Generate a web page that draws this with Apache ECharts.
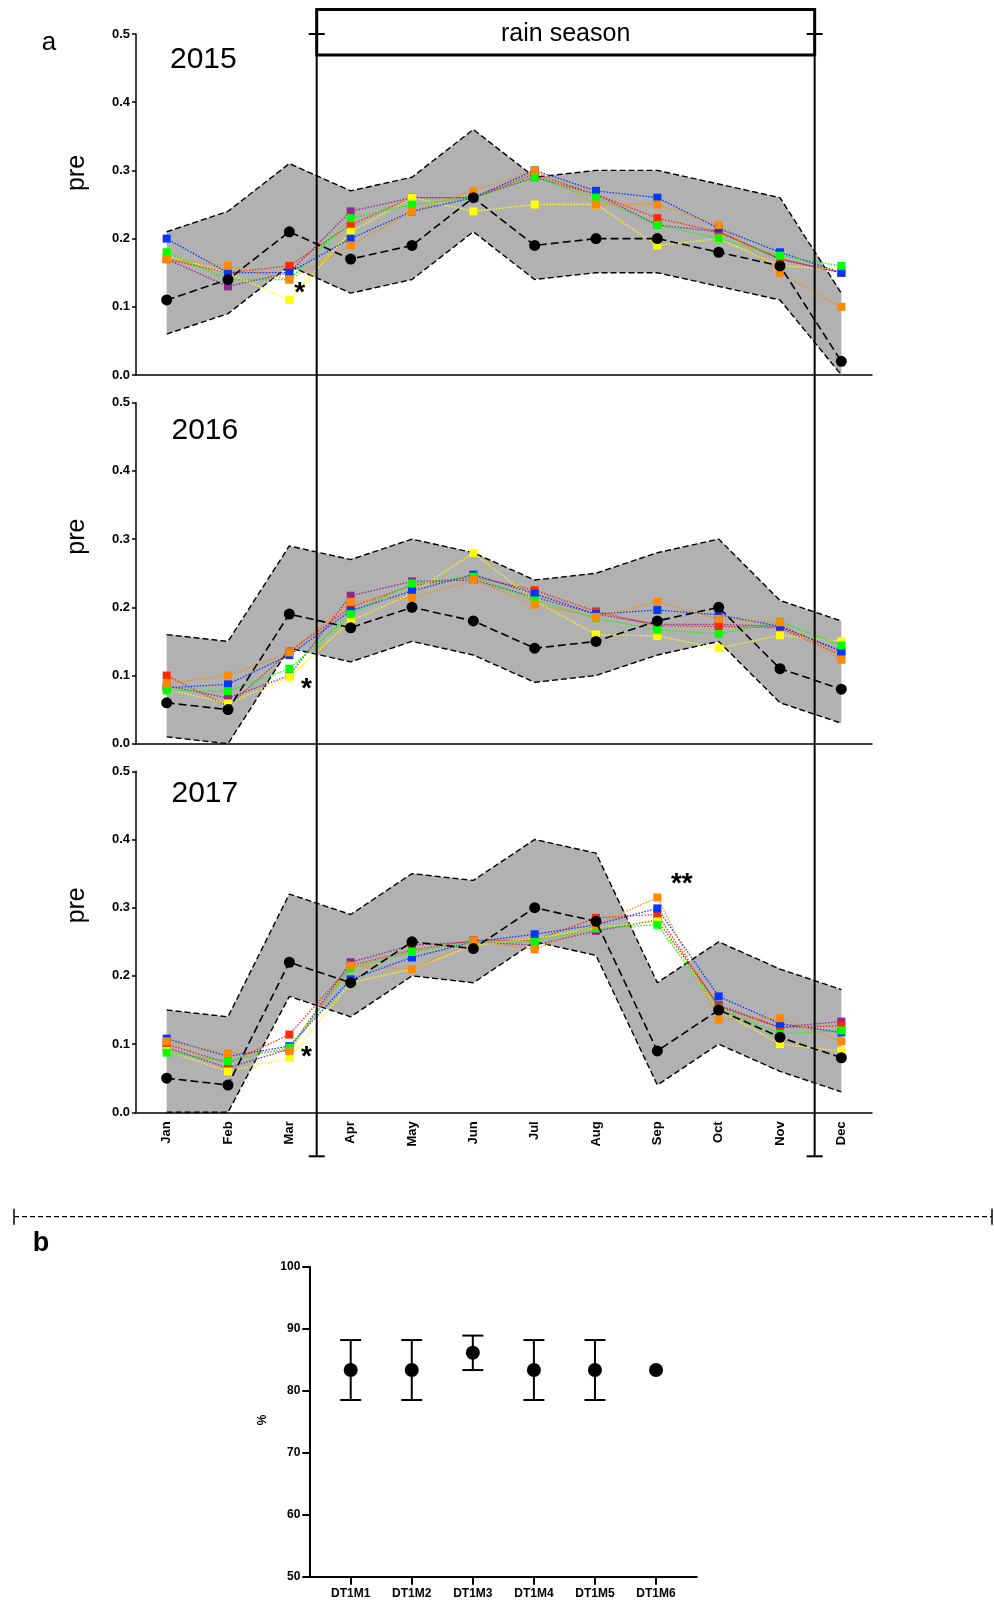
<!DOCTYPE html>
<html>
<head>
<meta charset="utf-8">
<script src="https://cdn.jsdelivr.net/npm/echarts@6/dist/echarts.min.js"></script>
<style>
  html, body { margin: 0; padding: 0; background: #ffffff; }
  #chart { width: 994px; height: 1601px; }
</style>
</head>
<body>
<div id="chart"></div>
<script>
// ---- panel a: monthly pre per year ----
const months = ['Jan', 'Feb', 'Mar', 'Apr', 'May', 'Jun', 'Jul', 'Aug', 'Sep', 'Oct', 'Nov', 'Dec'];
const years = ['2015', '2016', '2017'];
const yTicks = [0, 0.1, 0.2, 0.3, 0.4, 0.5];

// long-term reference (black) with its envelope
const mean2015  = [0.11, 0.14, 0.21, 0.17, 0.19, 0.26, 0.19, 0.20, 0.20, 0.18, 0.16, 0.02];
const upper2015 = [0.21, 0.24, 0.31, 0.27, 0.29, 0.36, 0.29, 0.30, 0.30, 0.28, 0.26, 0.12];
const lower2015 = [0.06, 0.09, 0.16, 0.12, 0.14, 0.21, 0.14, 0.15, 0.15, 0.13, 0.11, 0.00];

const mean2016  = [0.06, 0.05, 0.19, 0.17, 0.20, 0.18, 0.14, 0.15, 0.18, 0.20, 0.11, 0.08];
const upper2016 = [0.16, 0.15, 0.29, 0.27, 0.30, 0.28, 0.24, 0.25, 0.28, 0.30, 0.21, 0.18];
const lower2016 = [0.01, 0.00, 0.14, 0.12, 0.15, 0.13, 0.09, 0.10, 0.13, 0.15, 0.06, 0.03];

const mean2017  = [0.05, 0.04, 0.22, 0.19, 0.25, 0.24, 0.30, 0.28, 0.09, 0.15, 0.11, 0.08];
const upper2017 = [0.15, 0.14, 0.32, 0.29, 0.35, 0.34, 0.40, 0.38, 0.19, 0.25, 0.21, 0.18];
const lower2017 = [0.00, 0.00, 0.17, 0.14, 0.20, 0.19, 0.25, 0.23, 0.04, 0.10, 0.06, 0.03];

// six coloured series per year
const red2015    = [0.17, 0.15, 0.16, 0.22, 0.26, 0.26, 0.295, 0.265, 0.23, 0.21, 0.17, 0.15];
const blue2015   = [0.20, 0.15, 0.15, 0.20, 0.24, 0.26, 0.30, 0.27, 0.26, 0.215, 0.18, 0.15];
const green2015  = [0.18, 0.14, 0.14, 0.23, 0.25, 0.26, 0.29, 0.26, 0.22, 0.20, 0.175, 0.16];
const yellow2015 = [0.175, 0.15, 0.11, 0.21, 0.26, 0.24, 0.25, 0.25, 0.19, 0.20, 0.16, 0.155];
const purple2015 = [0.17, 0.13, 0.15, 0.24, 0.26, 0.26, 0.29, 0.265, 0.22, 0.21, 0.17, 0.15];
const orange2015 = [0.17, 0.16, 0.14, 0.19, 0.24, 0.27, 0.30, 0.25, 0.25, 0.22, 0.15, 0.10];

const red2016    = [0.10, 0.055, 0.135, 0.20, 0.232, 0.245, 0.225, 0.194, 0.173, 0.172, 0.17, 0.13];
const blue2016   = [0.082, 0.087, 0.13, 0.195, 0.224, 0.248, 0.22, 0.19, 0.196, 0.189, 0.172, 0.136];
const green2016  = [0.078, 0.077, 0.11, 0.19, 0.235, 0.245, 0.21, 0.184, 0.167, 0.161, 0.179, 0.144];
const yellow2016 = [0.08, 0.059, 0.098, 0.18, 0.22, 0.28, 0.21, 0.16, 0.158, 0.14, 0.159, 0.15];
const purple2016 = [0.085, 0.067, 0.10, 0.217, 0.238, 0.24, 0.215, 0.19, 0.175, 0.175, 0.172, 0.135];
const orange2016 = [0.088, 0.10, 0.134, 0.208, 0.214, 0.24, 0.204, 0.186, 0.208, 0.183, 0.178, 0.123];

const red2017    = [0.10, 0.072, 0.114, 0.215, 0.238, 0.252, 0.252, 0.285, 0.29, 0.155, 0.124, 0.127];
const blue2017   = [0.108, 0.082, 0.097, 0.195, 0.227, 0.25, 0.261, 0.275, 0.299, 0.17, 0.13, 0.117];
const green2017  = [0.0875, 0.075, 0.095, 0.211, 0.235, 0.25, 0.25, 0.27, 0.275, 0.152, 0.115, 0.12];
const yellow2017 = [0.09, 0.06, 0.08, 0.19, 0.21, 0.245, 0.255, 0.27, 0.28, 0.15, 0.10, 0.09];
const purple2017 = [0.095, 0.065, 0.093, 0.22, 0.245, 0.25, 0.245, 0.266, 0.282, 0.157, 0.125, 0.133];
const orange2017 = [0.104, 0.0865, 0.09, 0.215, 0.21, 0.251, 0.239, 0.275, 0.315, 0.136, 0.138, 0.104];

// ---- panel b: percentage per group ----
const groups  = ['DT1M1', 'DT1M2', 'DT1M3', 'DT1M4', 'DT1M5', 'DT1M6'];
const pctMean = [83.33, 83.33, 86.11, 83.33, 83.33, 83.33];
const pctLow  = [78.50, 78.50, 83.33, 78.50, 78.50, null];
const pctHigh = [88.17, 88.17, 88.89, 88.17, 88.17, null];
const pctTicks = [50, 60, 70, 80, 90, 100];

// ---------------------------------------------------------------
const FONT = "'Liberation Sans', Arial, Helvetica, sans-serif";
const palette = {
  red: '#ff2a00', blue: '#0038ff', green: '#00ff00',
  yellow: '#ffff00', purple: '#932691', orange: '#ff8a00'
};
// drawing order, bottom to top
const panels = [
  { year: years[0], mean: mean2015, upper: upper2015, lower: lower2015,
    lines: { purple: purple2015, red: red2015, yellow: yellow2015, blue: blue2015, green: green2015, orange: orange2015 } },
  { year: years[1], mean: mean2016, upper: upper2016, lower: lower2016,
    lines: { purple: purple2016, red: red2016, yellow: yellow2016, blue: blue2016, green: green2016, orange: orange2016 } },
  { year: years[2], mean: mean2017, upper: upper2017, lower: lower2017,
    lines: { purple: purple2017, red: red2017, yellow: yellow2017, blue: blue2017, green: green2017, orange: orange2017 } }
];

const gridTops = [34, 402.7, 771.3];
const grids = gridTops.map(t => ({ left: 136, right: 122, top: t, height: 341 }));
grids.push({ left: 309.3, right: 297.3, top: 1266.7, height: 310 });

const xAxes = [], yAxes = [], series = [];

panels.forEach((p, g) => {
  const last = g === panels.length - 1;
  xAxes.push({
    type: 'category', gridIndex: g, data: months, boundaryGap: true,
    axisLine: { onZero: false, lineStyle: { color: '#000', width: 1.5 } },
    axisTick: { alignWithLabel: true, length: 7, lineStyle: { color: '#000', width: 1.5 } },
    axisLabel: last ? { show: true, rotate: 90, color: '#000', fontWeight: 'bold', fontSize: 13,
                        fontFamily: FONT, margin: 9 } : { show: false },
    splitLine: { show: false }
  });
  yAxes.push({
    type: 'value', gridIndex: g, min: yTicks[0], max: yTicks[yTicks.length - 1], interval: 0.1,
    axisLine: { show: true, onZero: false, lineStyle: { color: '#000', width: 1.5 } },
    axisTick: { show: true, length: 4, lineStyle: { color: '#000', width: 1.5 } },
    axisLabel: { color: '#000', fontWeight: 'bold', fontSize: 13, fontFamily: FONT, margin: 6,
                 formatter: v => v.toFixed(1) },
    splitLine: { show: false }
  });

  // shaded envelope: lower edge + (upper - lower) stacked
  const stackId = 'env' + g;
  series.push({
    type: 'line', xAxisIndex: g, yAxisIndex: g, stack: stackId, data: p.lower,
    symbol: 'none', lineStyle: { width: 0 }, silent: true, z: 1
  });
  series.push({
    type: 'line', xAxisIndex: g, yAxisIndex: g, stack: stackId,
    data: p.upper.map((u, i) => +(u - p.lower[i]).toFixed(4)),
    symbol: 'none', lineStyle: { width: 0 },
    areaStyle: { color: '#b1b1b1', opacity: 1 }, silent: true, z: 1
  });
  // dashed envelope edges
  [p.upper, p.lower].forEach(edge => {
    series.push({
      type: 'line', xAxisIndex: g, yAxisIndex: g, data: edge, symbol: 'none',
      lineStyle: { color: '#000', width: 1.4, type: [6, 3] }, silent: true, z: 2
    });
  });
  // coloured dotted series with square markers
  Object.keys(p.lines).forEach(key => {
    series.push({
      type: 'line', xAxisIndex: g, yAxisIndex: g, data: p.lines[key],
      symbol: 'rect', symbolSize: 8, showAllSymbol: true,
      itemStyle: { color: palette[key], opacity: 1 },
      lineStyle: { color: palette[key], width: 1.3, type: [1.5, 1.5] }, z: 3
    });
  });
  // black dashed reference with round markers
  series.push({
    type: 'line', xAxisIndex: g, yAxisIndex: g, data: p.mean,
    symbol: 'circle', symbolSize: 11, showAllSymbol: true,
    itemStyle: { color: '#000', opacity: 1 },
    lineStyle: { color: '#000', width: 1.6, type: [8, 4] }, z: 4
  });
});

// panel b axes
const gb = 3;
const groupIdx = groups.map((_, i) => i);
xAxes.push({
  type: 'value', gridIndex: gb, min: -0.678, max: 5.666,
  axisLine: { show: true, onZero: false, lineStyle: { color: '#000', width: 2.2 } },
  axisTick: { show: true, customValues: groupIdx, length: 8, lineStyle: { color: '#000', width: 2 } },
  axisLabel: { show: true, customValues: groupIdx, formatter: v => groups[Math.round(v)] || '',
               color: '#000', fontWeight: 'bold', fontSize: 12, fontFamily: FONT, margin: 11 },
  splitLine: { show: false }
});
yAxes.push({
  type: 'value', gridIndex: gb, min: pctTicks[0], max: pctTicks[pctTicks.length - 1], interval: 10,
  axisLine: { show: true, onZero: false, lineStyle: { color: '#000', width: 2 } },
  axisTick: { show: true, length: 7, lineStyle: { color: '#000', width: 2 } },
  axisLabel: { color: '#000', fontWeight: 'bold', fontSize: 12, fontFamily: FONT, margin: 9 },
  splitLine: { show: false }
});
series.push({
  type: 'custom', xAxisIndex: gb, yAxisIndex: gb,
  data: groups.map((_, i) => [i, pctLow[i], pctHigh[i]]),
  renderItem: function (params, api) {
    const lo = api.value(1), hi = api.value(2);
    if (lo == null || hi == null || isNaN(lo) || isNaN(hi)) return;
    const a = api.coord([api.value(0), lo]);
    const b = api.coord([api.value(0), hi]);
    const w = 10.5;
    const st = { stroke: '#000', lineWidth: 2, fill: null };
    return {
      type: 'group', children: [
        { type: 'line', shape: { x1: a[0], y1: a[1], x2: b[0], y2: b[1] }, style: st },
        { type: 'line', shape: { x1: a[0] - w, y1: a[1], x2: a[0] + w, y2: a[1] }, style: st },
        { type: 'line', shape: { x1: b[0] - w, y1: b[1], x2: b[0] + w, y2: b[1] }, style: st }
      ]
    };
  },
  z: 2
});
series.push({
  type: 'scatter', xAxisIndex: gb, yAxisIndex: gb,
  data: groups.map((_, i) => [i, pctMean[i]]),
  symbol: 'circle', symbolSize: 14, itemStyle: { color: '#000', opacity: 1 }, z: 3
});

const chart = echarts.init(document.getElementById('chart'), null, { renderer: 'canvas' });
chart.setOption({
  animation: false,
  backgroundColor: '#ffffff',
  grid: grids, xAxis: xAxes, yAxis: yAxes, series: series
});

// ---- annotations placed from the axes' own scales ----
function at(g, catPos, val) {
  const x0 = chart.convertToPixel({ xAxisIndex: g }, 0);
  const x1 = chart.convertToPixel({ xAxisIndex: g }, 1);
  return [x0 + catPos * (x1 - x0), chart.convertToPixel({ yAxisIndex: g }, val)];
}
const gfx = [];
const black = { stroke: '#000', lineWidth: 2, fill: null };

// rain season bracket: from between Mar/Apr to between Nov/Dec
const rainStart = 2.446, rainEnd = 10.565;
const xL = at(0, rainStart, 0.5)[0];
const xR = at(0, rainEnd, 0.5)[0];
const yTop05 = at(0, 0, 0.5)[1];
const yBottom = at(2, 0, 0)[1] + 44;
const boxTop = yTop05 - 24.5, boxBottom = yTop05 + 21;
gfx.push({ type: 'rect', shape: { x: xL, y: boxTop, width: xR - xL, height: boxBottom - boxTop },
           style: { fill: '#fff', stroke: '#000', lineWidth: 3 }, z: 10 });
gfx.push({ type: 'text', x: (xL + xR) / 2, y: (boxTop + boxBottom) / 2 + 2, z: 11,
           style: { text: 'rain season', fontSize: 25, fontFamily: FONT, fill: '#000',
                    textAlign: 'center', textVerticalAlign: 'middle' } });
[xL, xR].forEach(x => {
  gfx.push({ type: 'line', shape: { x1: x, y1: boxBottom, x2: x, y2: yBottom }, style: black, z: 10 });
  gfx.push({ type: 'line', shape: { x1: x - 8, y1: yTop05, x2: x + 8, y2: yTop05 }, style: black, z: 11 });
  gfx.push({ type: 'line', shape: { x1: x - 8, y1: yBottom, x2: x + 8, y2: yBottom }, style: black, z: 10 });
});

// year labels and y-axis names
panels.forEach((p, g) => {
  const top = at(g, 0, 0.5)[1];
  gfx.push({ type: 'text', x: 170 + (g ? 1.5 : 0), y: top + [25.5, 28.5, 22][g], z: 10,
             style: { text: p.year, fontSize: 30, fontFamily: FONT, fill: '#000',
                      textAlign: 'left', textVerticalAlign: 'middle' } });
  gfx.push({ type: 'text', x: 77, y: top + [139, 134, 134][g], rotation: Math.PI / 2, z: 10,
             style: { text: 'pre', fontSize: 25, fontFamily: FONT, fill: '#000',
                      textAlign: 'center', textVerticalAlign: 'middle' } });
});

// significance marks
const stars = [
  { g: 0, pos: 2.17, val: 0.12, text: '*' },
  { g: 1, pos: 2.28, val: 0.08, text: '*' },
  { g: 2, pos: 2.28, val: 0.081, text: '*' },
  { g: 2, pos: 8.4, val: 0.335, text: '**' }
];
stars.forEach(s => {
  const c = at(s.g, s.pos, s.val);
  gfx.push({ type: 'text', x: c[0], y: c[1], z: 10,
             style: { text: s.text, fontSize: 28, fontWeight: 'bold', fontFamily: FONT, fill: '#000',
                      textAlign: 'center', textVerticalAlign: 'middle' } });
});

// panel letters
gfx.push({ type: 'text', x: 49, y: 43, z: 10,
           style: { text: 'a', fontSize: 26, fontFamily: FONT, fill: '#000',
                    textAlign: 'center', textVerticalAlign: 'middle' } });
gfx.push({ type: 'text', x: 41, y: 1244, z: 10,
           style: { text: 'b', fontSize: 27, fontWeight: 'bold', fontFamily: FONT, fill: '#000',
                    textAlign: 'center', textVerticalAlign: 'middle' } });

// dashed divider between the panels
const divY = 1216.7;
gfx.push({ type: 'line', shape: { x1: 14, y1: divY, x2: 992, y2: divY },
           style: { stroke: '#000', lineWidth: 1.2, lineDash: [5, 3] }, z: 10 });
[14, 992].forEach(x => gfx.push({ type: 'line', shape: { x1: x, y1: divY - 8, x2: x, y2: divY + 8 },
                                   style: { stroke: '#000', lineWidth: 1.5 }, z: 10 }));

// panel b y-axis name
gfx.push({ type: 'text', x: 263, y: 1420, rotation: Math.PI / 2, z: 10,
           style: { text: '%', fontSize: 12, fontWeight: 'bold', fontFamily: FONT, fill: '#000',
                    textAlign: 'center', textVerticalAlign: 'middle' } });

chart.setOption({ graphic: { elements: gfx } });
</script>
</body>
</html>
